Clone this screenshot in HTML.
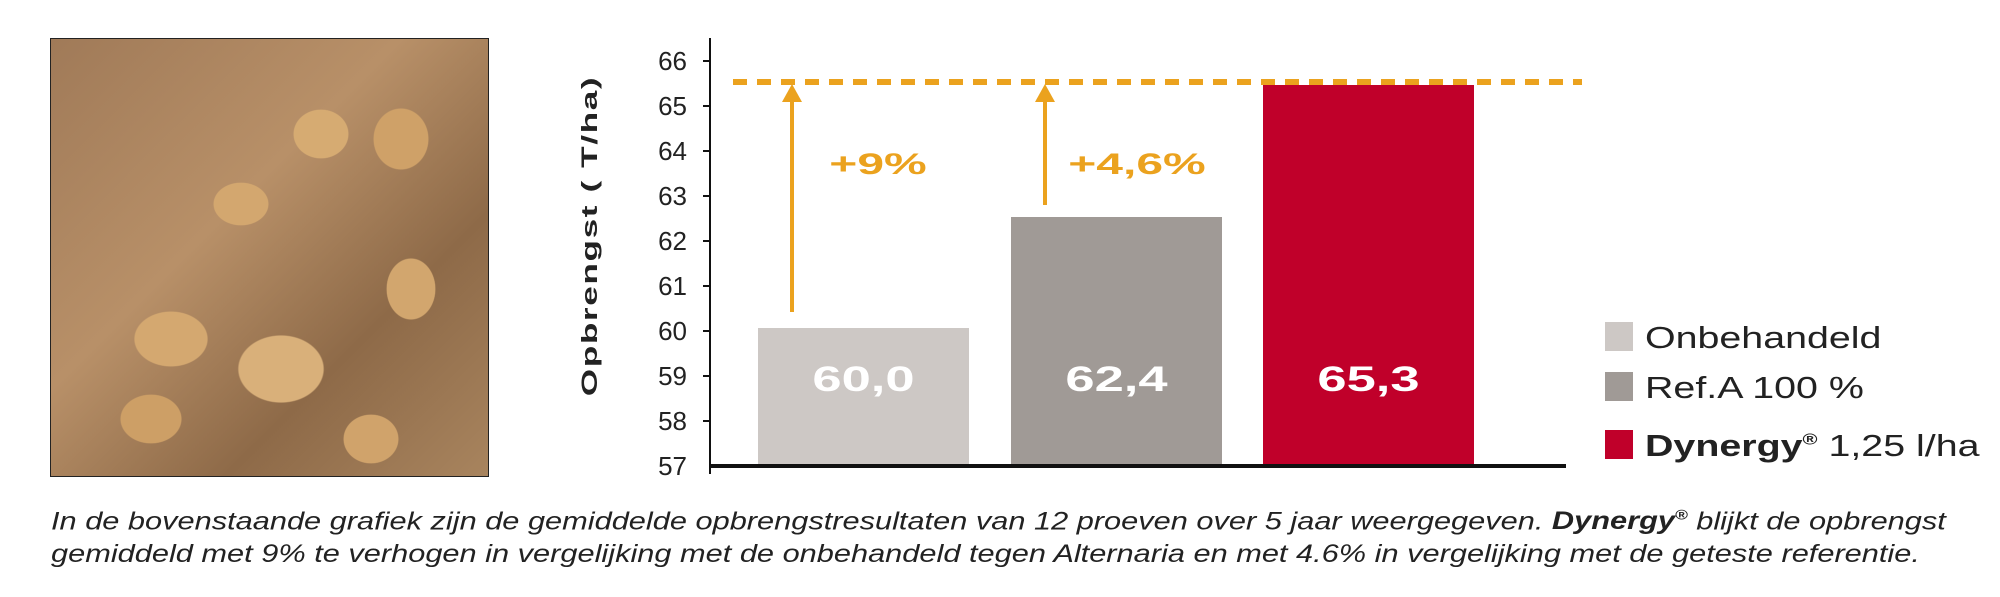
<!DOCTYPE html>
<html><head><meta charset="utf-8"><style>
body{margin:0;width:2000px;height:597px;background:#fff;overflow:hidden;position:relative;font-family:"Liberation Sans",sans-serif}
.photo{position:absolute;left:50px;top:38px;width:437px;height:437px;border:1px solid #222;background:
radial-gradient(ellipse 60px 45px at 120px 300px,#d4a870 60%,transparent 62%),
radial-gradient(ellipse 70px 55px at 230px 330px,#d9b07a 60%,transparent 62%),
radial-gradient(ellipse 45px 40px at 270px 95px,#d6ab72 60%,transparent 62%),
radial-gradient(ellipse 45px 50px at 350px 100px,#cfa168 60%,transparent 62%),
radial-gradient(ellipse 40px 50px at 360px 250px,#d2a66e 60%,transparent 62%),
radial-gradient(ellipse 45px 35px at 190px 165px,#d3a76f 60%,transparent 62%),
radial-gradient(ellipse 50px 40px at 100px 380px,#cd9f66 60%,transparent 62%),
radial-gradient(ellipse 45px 40px at 320px 400px,#d0a36b 60%,transparent 62%),
linear-gradient(135deg,#a07a58,#b89068 40%,#8e6a48 70%,#a8845e)}
.t{position:absolute;font-size:26px;color:#222;text-align:right;width:50px;left:637px}
.v{position:absolute;color:#fff;font-weight:bold;font-size:35px;text-align:center;width:211px;top:360px;transform:scaleX(1.5)}
.lg{position:absolute;left:1605px;width:28px;height:29px}
.lt{position:absolute;left:1645px;font-size:31px;color:#222;transform:scaleX(1.27);transform-origin:left;white-space:nowrap}
.cap{position:absolute;left:51px;font-style:italic;font-size:25px;color:#222;white-space:nowrap;transform:scaleX(1.23);transform-origin:left}
.pc{position:absolute;font-weight:bold;font-size:30px;color:#eba21e;transform:translateX(-50%) scaleX(1.6);white-space:nowrap;top:148px}
</style></head><body>
<div class="photo"></div>
<div style="position:absolute;left:590px;top:236px;transform:translate(-50%,-50%) rotate(-90deg) scaleX(1.6);font-size:22px;font-weight:bold;color:#222;white-space:nowrap;letter-spacing:1px">Opbrengst ( T/ha)</div>
<div class="t" style="top:46px">66</div><div class="t" style="top:91px">65</div><div class="t" style="top:136px">64</div><div class="t" style="top:181px">63</div><div class="t" style="top:226px">62</div><div class="t" style="top:271px">61</div><div class="t" style="top:316px">60</div><div class="t" style="top:361px">59</div><div class="t" style="top:406px">58</div><div class="t" style="top:451px">57</div>
<svg style="position:absolute;left:0;top:0" width="2000" height="597">
<line x1="710" y1="38" x2="710" y2="474" stroke="#111" stroke-width="2"/>
<g stroke="#111" stroke-width="2"><line x1="703" y1="61" x2="710" y2="61"/><line x1="703" y1="106" x2="710" y2="106"/><line x1="703" y1="151" x2="710" y2="151"/><line x1="703" y1="196" x2="710" y2="196"/><line x1="703" y1="241" x2="710" y2="241"/><line x1="703" y1="286" x2="710" y2="286"/><line x1="703" y1="331" x2="710" y2="331"/><line x1="703" y1="376" x2="710" y2="376"/><line x1="703" y1="421" x2="710" y2="421"/></g>
<rect x="758" y="328" width="211" height="138" fill="#cdc8c5"/>
<rect x="1011" y="217" width="211" height="249" fill="#a09a96"/>
<rect x="1263" y="85" width="211" height="381" fill="#c0002a"/>
<line x1="710" y1="466" x2="1566" y2="466" stroke="#111" stroke-width="4"/>
<line x1="733" y1="82" x2="1582" y2="82" stroke="#eba21e" stroke-width="6" stroke-dasharray="14,10"/>
<g stroke="#eba21e" stroke-width="4" fill="#eba21e"><line x1="792" y1="312" x2="792" y2="100"/><polygon points="782,102 802,102 792,84" stroke="none"/>
<line x1="1045" y1="205" x2="1045" y2="100"/><polygon points="1035,102 1055,102 1045,84" stroke="none"/></g>
</svg>
<div class="pc" style="left:878px">+9%</div>
<div class="pc" style="left:1137px">+4,6%</div>
<div class="v" style="left:758px">60,0</div><div class="v" style="left:1011px">62,4</div><div class="v" style="left:1263px">65,3</div>
<div class="lg" style="top:322px;background:#cdc8c5"></div><div class="lt" style="top:320px">Onbehandeld</div>
<div class="lg" style="top:372px;background:#a09a96"></div><div class="lt" style="top:370px">Ref.A 100 %</div>
<div class="lg" style="top:430px;background:#c0002a"></div><div class="lt" style="top:428px"><b>Dynergy<sup style="font-size:16px">®</sup></b> 1,25 l/ha</div>
<div class="cap" style="top:507px">In de bovenstaande grafiek zijn de gemiddelde opbrengstresultaten van 12 proeven over 5 jaar weergegeven. <b>Dynergy<sup style="font-size:14px">®</sup></b> blijkt de opbrengst</div>
<div class="cap" style="top:540px">gemiddeld met 9% te verhogen in vergelijking met de onbehandeld tegen Alternaria en met 4.6% in vergelijking met de geteste referentie.</div>
</body></html>
